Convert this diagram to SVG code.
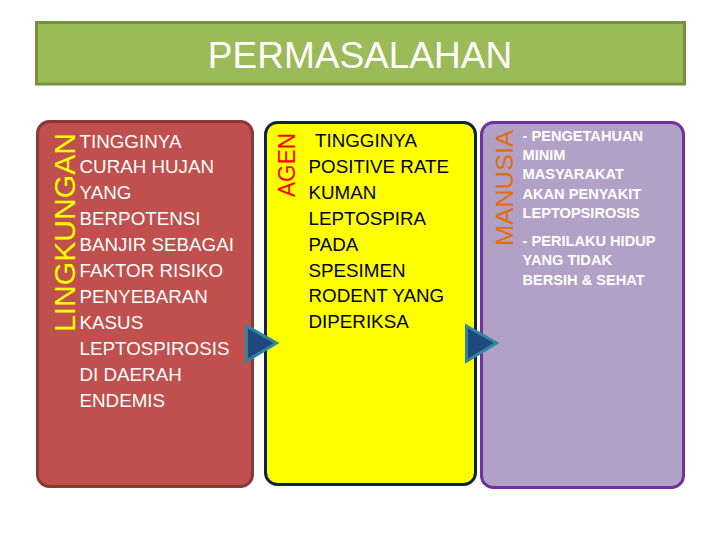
<svg xmlns="http://www.w3.org/2000/svg" width="720" height="540" viewBox="0 0 720 540">
<style>
text{font-family:"Liberation Sans",Arial,sans-serif}
.box{stroke-width:3}
.body{font-size:18.8px}
.red{fill:#ffffff}
.blk{fill:#000000}
.pur{fill:#ffffff;font-size:14.6px;font-weight:bold}
.arrow{fill:#1f497d;stroke:#31859c;stroke-width:3;stroke-linejoin:miter}
</style>
<rect width="720" height="540" fill="#ffffff"/>
<g id="title">
<rect x="36.5" y="22.5" width="648" height="61.5" fill="#9bbb59" stroke="#76923c" stroke-width="3"/>
<text x="360" y="68" font-size="37" fill="#ffffff" text-anchor="middle">PERMASALAHAN</text>
</g>
<g id="lingkungan">
<rect class="box" x="37.5" y="121.5" width="215" height="365" rx="12" fill="#c0504d" stroke="#8c3836"/>
<text transform="translate(74.5,332) rotate(-90)" font-size="30" fill="#ffff00" textLength="199" lengthAdjust="spacingAndGlyphs">LINGKUNGAN</text>
<g class="body red">
<text x="79.5" y="147.5">TINGGINYA</text>
<text x="79.5" y="173.4">CURAH HUJAN</text>
<text x="79.5" y="199.3">YANG</text>
<text x="79.5" y="225.2">BERPOTENSI</text>
<text x="79.5" y="251.1">BANJIR SEBAGAI</text>
<text x="79.5" y="277">FAKTOR RISIKO</text>
<text x="79.5" y="302.9">PENYEBARAN</text>
<text x="79.5" y="328.8">KASUS</text>
<text x="79.5" y="354.7">LEPTOSPIROSIS</text>
<text x="79.5" y="380.6">DI DAERAH</text>
<text x="79.5" y="406.5">ENDEMIS</text>
</g>
</g>
<g id="agen">
<rect class="box" x="265.5" y="122.5" width="210" height="362" rx="12" fill="#ffff00" stroke="#0f243e"/>
<text transform="translate(295,197) rotate(-90)" font-size="23" fill="#ff0000" textLength="64" lengthAdjust="spacingAndGlyphs">AGEN</text>
<g class="body blk">
<text x="315" y="147">TINGGINYA</text>
<text x="308.5" y="172.9">POSITIVE RATE</text>
<text x="308.5" y="198.8">KUMAN</text>
<text x="308.5" y="224.7">LEPTOSPIRA</text>
<text x="308.5" y="250.6">PADA</text>
<text x="308.5" y="276.5">SPESIMEN</text>
<text x="308.5" y="302.4">RODENT YANG</text>
<text x="308.5" y="328.3">DIPERIKSA</text>
</g>
</g>
<g id="manusia">
<rect class="box" x="481.5" y="122.5" width="202" height="365" rx="12" fill="#b2a1c7" stroke="#7030a0"/>
<text transform="translate(513,246) rotate(-90)" font-size="23.5" fill="#e46c0a" textLength="116" lengthAdjust="spacingAndGlyphs">MANUSIA</text>
<g class="pur">
<text x="522.5" y="141">- PENGETAHUAN</text>
<text x="522.5" y="160">MINIM</text>
<text x="522.5" y="179.3">MASYARAKAT</text>
<text x="522.5" y="198.6">AKAN PENYAKIT</text>
<text x="522.5" y="218">LEPTOPSIROSIS</text>
<text x="522.5" y="246">- PERILAKU HIDUP</text>
<text x="522.5" y="265.3">YANG TIDAK</text>
<text x="522.5" y="284.6">BERSIH &amp; SEHAT</text>
</g>
</g>
<g id="connectors">
<polygon class="arrow" points="246.5,326 276.5,343 246.5,361"/>
<polygon class="arrow" points="466.5,326 496.5,343 466.5,361"/>
</g>
</svg>
